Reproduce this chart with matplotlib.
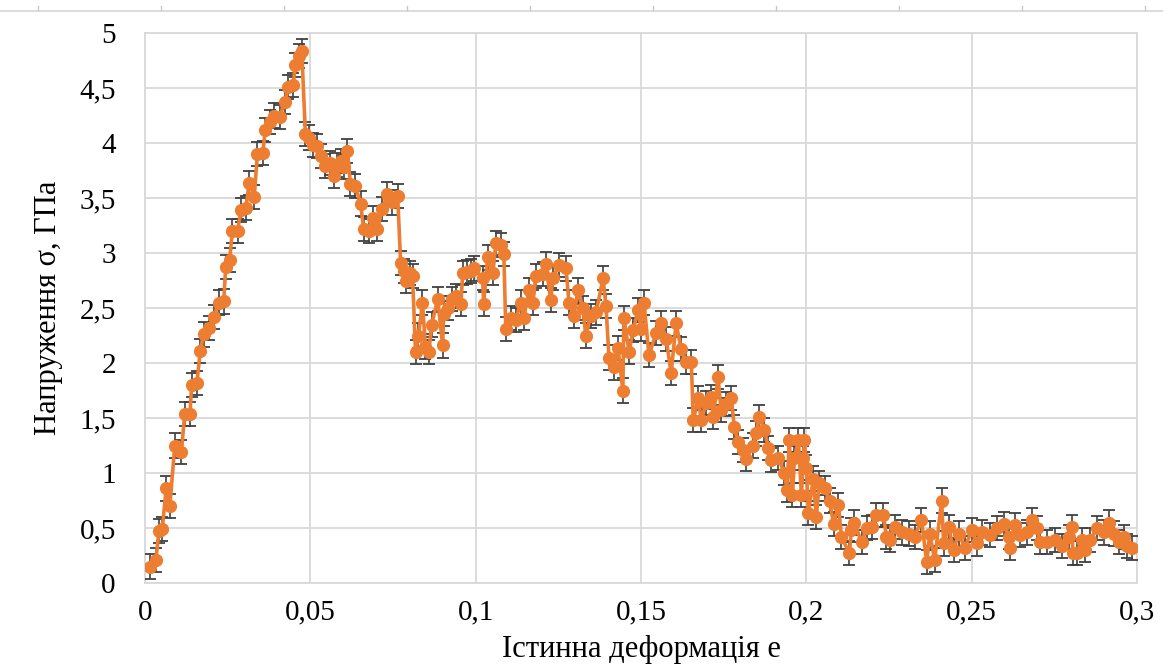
import matplotlib
matplotlib.use("Agg")
import matplotlib.pyplot as plt
from matplotlib.lines import Line2D

# true strain e and stress (GPa)
strain = [
    0.0016, 0.0033, 0.0042, 0.0052, 0.0064, 0.0075, 0.0090, 0.0110, 0.0120, 0.0136,
    0.0141, 0.0157, 0.0167, 0.0177, 0.0192, 0.0208, 0.0223, 0.0238, 0.0244, 0.0256,
    0.0264, 0.0280, 0.0290, 0.0305, 0.0315, 0.0330, 0.0340, 0.0356, 0.0364, 0.0377,
    0.0391, 0.0407, 0.0423, 0.0433, 0.0448, 0.0454, 0.0465, 0.0474,
    0.0485, 0.0497, 0.0509, 0.0521, 0.0533, 0.0545, 0.0558, 0.0570, 0.0582, 0.0594,
    0.0603, 0.0612, 0.0621, 0.0636, 0.0652, 0.0661, 0.0676, 0.0688, 0.0703, 0.0718,
    0.0733, 0.0748, 0.0764, 0.0773, 0.0782, 0.0788, 0.0800, 0.0809, 0.0818, 0.0827,
    0.0839, 0.0848, 0.0858, 0.0867, 0.0885, 0.0900, 0.0903, 0.0915, 0.0927, 0.0939,
    0.0955, 0.0961, 0.0973, 0.0985,
    0.0994, 0.1021, 0.1024, 0.1036, 0.1052, 0.1061, 0.1076, 0.1085, 0.1091, 0.1106,
    0.1121, 0.1136, 0.1145, 0.1161, 0.1173, 0.1182, 0.1203, 0.1212, 0.1227, 0.1233,
    0.1252, 0.1273, 0.1282, 0.1297, 0.1309, 0.1324, 0.1333, 0.1348, 0.1364, 0.1385,
    0.1394, 0.1403, 0.1418, 0.1430, 0.1445, 0.1448, 0.1464, 0.1476, 0.1491, 0.1500,
    0.1509, 0.1524,
    0.1545, 0.1561, 0.1576, 0.1591, 0.1606, 0.1621, 0.1636, 0.1652, 0.1658, 0.1673,
    0.1682, 0.1697, 0.1712, 0.1718, 0.1733, 0.1742, 0.1758, 0.1773, 0.1782, 0.1794,
    0.1809, 0.1818, 0.1839, 0.1848, 0.1858, 0.1873, 0.1885, 0.1894, 0.1915, 0.1933,
    0.1942, 0.1948, 0.1958, 0.1964, 0.1976, 0.1985, 0.1991,
    0.1994, 0.2000, 0.2006, 0.2021, 0.2030, 0.2039, 0.2055, 0.2070, 0.2082, 0.2097,
    0.2106, 0.2130, 0.2136, 0.2145, 0.2167, 0.2182, 0.2197, 0.2212, 0.2233, 0.2242,
    0.2252, 0.2267, 0.2288, 0.2309, 0.2327, 0.2348, 0.2364, 0.2373, 0.2388, 0.2409,
    0.2415, 0.2430, 0.2445, 0.2461,
    0.2479, 0.2500, 0.2515, 0.2530, 0.2555, 0.2576, 0.2597, 0.2612, 0.2615, 0.2630,
    0.2645, 0.2667, 0.2682, 0.2697, 0.2706, 0.2727, 0.2752, 0.2773, 0.2794, 0.2803,
    0.2806, 0.2818, 0.2833, 0.2842, 0.2858, 0.2879, 0.2900, 0.2915, 0.2930, 0.2945,
    0.2961, 0.2970, 0.2985,
]
stress = [
    0.15, 0.21, 0.47, 0.49, 0.86, 0.70, 1.25, 1.19, 1.54, 1.54,
    1.80, 1.82, 2.11, 2.26, 2.32, 2.42, 2.55, 2.56, 2.87, 2.94,
    3.20, 3.20, 3.39, 3.41, 3.64, 3.51, 3.90, 3.91, 4.12, 4.19,
    4.25, 4.24, 4.37, 4.51, 4.53, 4.71, 4.79, 4.84,
    4.08, 4.05, 3.98, 3.97, 3.88, 3.79, 3.82, 3.70, 3.80, 3.84,
    3.78, 3.93, 3.63, 3.61, 3.45, 3.22, 3.20, 3.32, 3.22, 3.40,
    3.54, 3.46, 3.52, 2.91, 2.84, 2.75, 2.82, 2.79, 2.10, 2.25,
    2.55, 2.15, 2.10, 2.35, 2.58, 2.16, 2.45, 2.50, 2.58, 2.61,
    2.54, 2.82, 2.83, 2.84,
    2.86, 2.77, 2.54, 2.96, 2.82, 3.09, 3.07, 2.99, 2.31, 2.41,
    2.39, 2.55, 2.41, 2.66, 2.55, 2.79, 2.81, 2.90, 2.57, 2.77,
    2.89, 2.86, 2.55, 2.43, 2.66, 2.50, 2.25, 2.43, 2.46, 2.77,
    2.52, 2.05, 1.96, 2.14, 1.75, 2.41, 2.10, 2.30, 2.48, 2.31,
    2.55, 2.07,
    2.27, 2.36, 2.22, 1.91, 2.36, 2.13, 2.01, 2.01, 1.48, 1.68,
    1.48, 1.64, 1.69, 1.51, 1.87, 1.57, 1.63, 1.68, 1.42, 1.28,
    1.21, 1.13, 1.25, 1.36, 1.51, 1.39, 1.23, 1.12, 1.14, 1.00,
    0.85, 1.30, 0.80, 1.14, 1.30, 0.80, 1.14,
    1.30, 1.05, 0.64, 0.95, 0.60, 0.91, 0.86, 0.75, 0.54, 0.71,
    0.42, 0.27, 0.48, 0.55, 0.37, 0.50, 0.51, 0.62, 0.62, 0.42,
    0.39, 0.51, 0.46, 0.45, 0.42, 0.57, 0.19, 0.45, 0.21, 0.75,
    0.36, 0.51, 0.30, 0.45,
    0.32, 0.48, 0.36, 0.46, 0.44, 0.50, 0.54, 0.42, 0.32, 0.53,
    0.44, 0.46, 0.57, 0.50, 0.37, 0.37, 0.39, 0.34, 0.42, 0.51,
    0.27, 0.27, 0.39, 0.30, 0.39, 0.50, 0.46, 0.55, 0.45, 0.37,
    0.42, 0.34, 0.32,
]
stress_err = 0.11

x_ticks = [0, 0.05, 0.1, 0.15, 0.2, 0.25, 0.3]
x_tick_labels = ["0", "0,05", "0,1", "0,15", "0,2", "0,25", "0,3"]
y_ticks = [0, 0.5, 1, 1.5, 2, 2.5, 3, 3.5, 4, 4.5, 5]
y_tick_labels = ["0", "0,5", "1", "1,5", "2", "2,5", "3", "3,5", "4", "4,5", "5"]

plt.rcParams["font.family"] = ["Liberation Serif", "DejaVu Serif"]

fig = plt.figure(figsize=(11.63, 6.71), dpi=100)
ax = fig.add_axes([0.1247, 0.1311, 0.853, 0.8197])

grid_col = "#d9d9d9"
orange = "#ED7D31"
ax.errorbar(strain, stress, yerr=stress_err, color=orange, lw=2.6,
            marker="o", markersize=8.5, markeredgecolor=orange,
            ecolor="#404040", elinewidth=1.2, capsize=4.5, capthick=1.3,
            zorder=3)

ax.set_xlim(0, 0.3)
ax.set_ylim(0, 5)
ax.set_xticks(x_ticks)
ax.set_xticklabels(x_tick_labels)
ax.set_yticks(y_ticks)
ax.set_yticklabels(y_tick_labels)
ax.tick_params(axis="both", length=0, labelsize=21, colors="black")
ax.tick_params(axis="y", pad=21)
ax.tick_params(axis="x", pad=12)
ax.grid(True, color=grid_col, lw=1.3, zorder=0)
ax.set_axisbelow(True)
for s in ax.spines.values():
    s.set_color(grid_col)
    s.set_linewidth(1.3)

ax.set_xlabel("Істинна деформація e", fontsize=22, labelpad=7)
ax.set_ylabel("Напруження σ, ГПа", fontsize=22, labelpad=12)

# thin ruler strip along the top of the screenshot
fig.add_artist(Line2D([0, 1], [1 - 11 / 671, 1 - 11 / 671], color=grid_col, lw=1.3))
for px in [38, 161, 284, 407, 530, 653, 776, 899, 1022, 1145]:
    fig.add_artist(Line2D([px / 1163, px / 1163], [1 - 10 / 671, 1 - 6 / 671],
                          color="#c8c8c8", lw=1))

fig.savefig("out.png", dpi=100)
